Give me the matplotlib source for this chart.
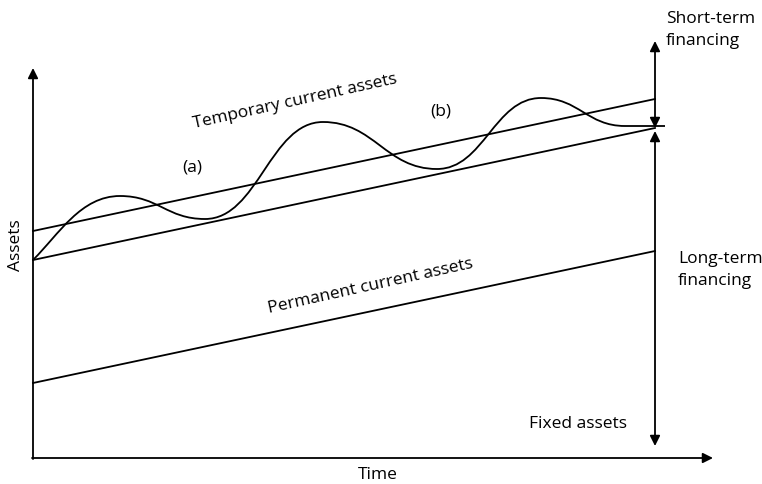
import matplotlib.pyplot as plt
from matplotlib.path import Path
from matplotlib.patches import PathPatch

plt.rcParams['font.family'] = ['Open Sans', 'DejaVu Sans']

# schematic values (pixel-like units, y grows downward)
line_x = [33, 655]
upper_line_y = [231, 99]     # permanent + temporary level
middle_line_y = [260, 128]   # long-term financing level
lower_line_y = [383, 251]    # fixed assets level

# turning points of the wavy "total assets" curve
wave_x = [33, 120, 205, 323, 437, 541, 625, 665]
wave_y = [260, 196, 219, 122, 169, 98, 126, 126]

fig = plt.figure(figsize=(7.62, 4.84), dpi=100)
ax = fig.add_axes([0, 0, 1, 1])
ax.set_xlim(0, 762)
ax.set_ylim(484, 0)
ax.axis('off')

lw = 1.3
ax.plot(line_x, upper_line_y, color='black', lw=lw)
ax.plot(line_x, middle_line_y, color='black', lw=lw)
ax.plot(line_x, lower_line_y, color='black', lw=lw)

# smooth curve through the turning points (horizontal tangents at extrema)
verts = [(wave_x[0], wave_y[0])]
codes = [Path.MOVETO]
for i in range(1, len(wave_x)):
    x0, y0 = wave_x[i - 1], wave_y[i - 1]
    x1, y1 = wave_x[i], wave_y[i]
    dx = x1 - x0
    if i == 1:
        c1 = (x0 + dx * 0.3, y0 - dx * 0.3)
    else:
        c1 = (x0 + dx * 0.45, y0)
    c2 = (x1 - dx * 0.45, y1)
    verts += [c1, c2, (x1, y1)]
    codes += [Path.CURVE4] * 3
ax.add_patch(PathPatch(Path(verts, codes), fill=False, lw=lw, edgecolor='black'))

arrow = dict(arrowstyle='-|>', color='black', lw=lw, mutation_scale=15, shrinkA=0, shrinkB=0)
# axes
ax.annotate('', xy=(33, 68), xytext=(33, 459), arrowprops=arrow)
ax.annotate('', xy=(713, 458), xytext=(32, 458), arrowprops=arrow)

# financing arrows
dbl = dict(arrow, arrowstyle='<|-|>')
ax.annotate('', xy=(655, 41), xytext=(655, 128), arrowprops=dbl)
ax.annotate('', xy=(655, 131), xytext=(655, 446), arrowprops=dbl)

fs = 12.5
ax.text(295, 102, 'Temporary current assets', fontsize=fs, rotation=12.5, ha='center', va='center')
ax.text(371, 286, 'Permanent current assets', fontsize=fs, rotation=12.5, ha='center', va='center')
ax.text(192, 167, '(a)', fontsize=fs, ha='center', va='center')
ax.text(441, 112, '(b)', fontsize=fs, ha='center', va='center')
ax.text(16, 245, 'Assets', fontsize=fs, rotation=90, ha='center', va='center')
ax.text(378, 475, 'Time', fontsize=fs, ha='center', va='center')
ax.text(666, 30, 'Short-term\nfinancing', fontsize=fs, ha='left', va='center', linespacing=1.45)
ax.text(678, 270, 'Long-term\nfinancing', fontsize=fs, ha='left', va='center', linespacing=1.45)
ax.text(578, 424, 'Fixed assets', fontsize=fs, ha='center', va='center')

fig.savefig('out.png', dpi=100)
